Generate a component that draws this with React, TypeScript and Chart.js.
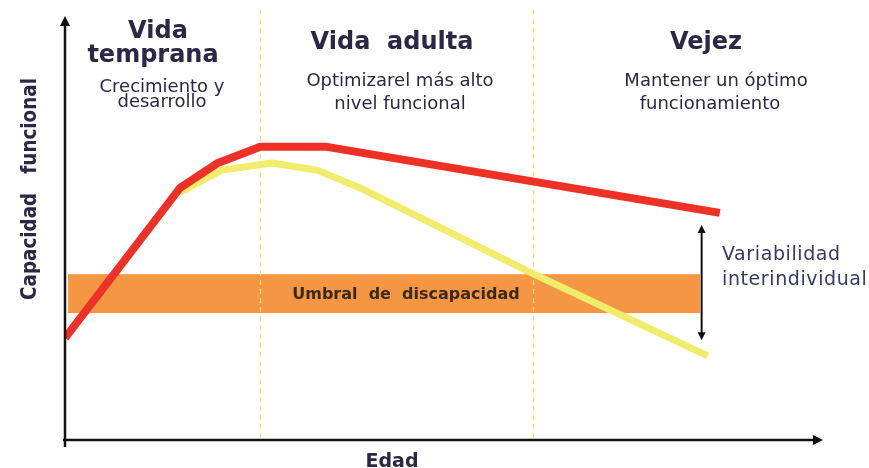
import React, { useEffect, useRef } from "react";
import { Chart, registerables } from "chart.js";

Chart.register(...registerables);

// Abstract scales: age 0..100 (x), functional capacity 0..100 (y)
const redAges = [0, 15.2, 20.2, 25.8, 34.6, 86.5];
const redCapacity = [24.1, 59.6, 65.5, 69.3, 69.3, 53.7];
const yellowAges = [15.2, 20.7, 27.3, 33.3, 39.0, 61.4, 84.9];
const yellowCapacity = [58.6, 63.8, 65.5, 63.8, 59.6, 39.7, 19.9];
const stageBoundaries = [25.8, 61.8];
const thresholdAgeRange = [0.4, 83.9];
const thresholdCapacityRange = [30.0, 39.2];
const variabilityAge = [84.1];
const variabilityRange = [23.6, 50.8];

const stageTitles = [["Vida", "temprana"], ["Vida  adulta"], ["Vejez"]];
const stageSubtitles = [
  ["Crecimiento y", "desarrollo"],
  ["Optimizarel más alto", "nivel funcional"],
  ["Mantener un óptimo", "funcionamiento"],
];
const thresholdLabel = "Umbral  de  discapacidad";
const variabilityLabel = ["Variabilidad", "interindividual"];
const xAxisTitle = "Edad";
const yAxisTitle = "Capacidad   funcional";

const TEXT = "#2b2846";
const FONT = "'DejaVu Sans', sans-serif";
const NARROW = "'Liberation Sans Narrow', 'DejaVu Sans Condensed', sans-serif";

const decorPlugin = {
  id: "decor",
  beforeDatasetsDraw(chart: any) {
    const { ctx, scales } = chart;
    const xs = scales.x, ys = scales.y;
    ctx.save();
    // threshold band
    const bx0 = xs.getPixelForValue(thresholdAgeRange[0]);
    const bx1 = xs.getPixelForValue(thresholdAgeRange[1]);
    const by0 = ys.getPixelForValue(thresholdCapacityRange[1]);
    const by1 = ys.getPixelForValue(thresholdCapacityRange[0]);
    ctx.fillStyle = "#F59642";
    ctx.fillRect(bx0, by0, bx1 - bx0, by1 - by0);
    // stage dashed lines
    ctx.strokeStyle = "#EEEA6E";
    ctx.lineWidth = 1.2;
    ctx.setLineDash([5, 4]);
    stageBoundaries.forEach((a) => {
      const px = Math.round(xs.getPixelForValue(a)) + 0.5;
      ctx.beginPath();
      ctx.moveTo(px, 10);
      ctx.lineTo(px, ys.getPixelForValue(0));
      ctx.stroke();
    });
    ctx.setLineDash([]);
    // threshold label
    ctx.fillStyle = "#3a2a1c";
    ctx.font = `bold 16px ${FONT}`;
    ctx.textAlign = "center";
    ctx.textBaseline = "alphabetic";
    ctx.fillText(thresholdLabel, 406, 299);
    ctx.restore();
  },
  afterDatasetsDraw(chart: any) {
    const { ctx, scales, chartArea } = chart;
    const xs = scales.x, ys = scales.y;
    ctx.save();
    // axes
    ctx.strokeStyle = "#111";
    ctx.fillStyle = "#111";
    ctx.lineWidth = 2.5;
    const ox = chartArea.left, oy = chartArea.bottom;
    ctx.beginPath();
    ctx.moveTo(ox, oy + 7);
    ctx.lineTo(ox, chartArea.top + 6);
    ctx.stroke();
    ctx.beginPath();
    ctx.moveTo(ox, chartArea.top - 1);
    ctx.lineTo(ox - 5, chartArea.top + 9);
    ctx.lineTo(ox + 5, chartArea.top + 9);
    ctx.closePath();
    ctx.fill();
    ctx.beginPath();
    ctx.moveTo(ox - 2, oy);
    ctx.lineTo(chartArea.right - 6, oy);
    ctx.stroke();
    ctx.beginPath();
    ctx.moveTo(chartArea.right + 1, oy);
    ctx.lineTo(chartArea.right - 9, oy - 5);
    ctx.lineTo(chartArea.right - 9, oy + 5);
    ctx.closePath();
    ctx.fill();

    // variability double arrow
    const vx = xs.getPixelForValue(variabilityAge[0]);
    const vy0 = ys.getPixelForValue(variabilityRange[1]);
    const vy1 = ys.getPixelForValue(variabilityRange[0]);
    ctx.lineWidth = 2;
    ctx.beginPath();
    ctx.moveTo(vx, vy0 + 4);
    ctx.lineTo(vx, vy1 - 4);
    ctx.stroke();
    ctx.beginPath();
    ctx.moveTo(vx, vy0);
    ctx.lineTo(vx - 4, vy0 + 8);
    ctx.lineTo(vx + 4, vy0 + 8);
    ctx.closePath();
    ctx.fill();
    ctx.beginPath();
    ctx.moveTo(vx, vy1);
    ctx.lineTo(vx - 4, vy1 - 8);
    ctx.lineTo(vx + 4, vy1 - 8);
    ctx.closePath();
    ctx.fill();

    // texts
    ctx.fillStyle = TEXT;
    ctx.textAlign = "center";
    ctx.textBaseline = "alphabetic";
    ctx.font = `bold 24px ${FONT}`;
    ctx.fillText(stageTitles[0][0], 158, 38);
    ctx.fillText(stageTitles[0][1], 153, 62);
    ctx.fillText(stageTitles[1][0], 392, 49);
    ctx.fillText(stageTitles[2][0], 706, 49);

    ctx.font = `18px ${FONT}`;
    const subX = [162, 400, 716];
    stageSubtitles.forEach((lines, i) => {
      ctx.fillText(lines[0], subX[i], i === 0 ? 92 : 86);
      ctx.fillText(lines[1], subX[i] - (i === 2 ? 6 : 0), i === 0 ? 107 : 109);
    });

    ctx.textAlign = "left";
    ctx.fillStyle = "#363966";
    ctx.font = `19px ${FONT}`;
    (ctx as any).letterSpacing = "0.6px";
    ctx.fillText(variabilityLabel[0], 722, 260);
    ctx.fillText(variabilityLabel[1], 722, 285);
    (ctx as any).letterSpacing = "0px";

    ctx.fillStyle = TEXT;
    ctx.textAlign = "center";
    ctx.font = `bold 19px ${FONT}`;
    ctx.fillText(xAxisTitle, 392, 467);

    // y-axis title, fitted to its length in the reference
    ctx.font = `bold 25px ${NARROW}`;
    const w = ctx.measureText(yAxisTitle).width;
    const size = Math.min(27, (25 * 222) / w);
    ctx.font = `bold ${size.toFixed(1)}px ${NARROW}`;
    ctx.translate(36, 189);
    ctx.rotate(-Math.PI / 2);
    ctx.fillText(yAxisTitle, 0, 0);
    ctx.restore();
  },
};

export default function App() {
  const ref = useRef<HTMLCanvasElement>(null);
  useEffect(() => {
    if (!ref.current) return;
    const chart = new Chart(ref.current, {
      type: "line",
      data: {
        datasets: [
          {
            label: "Capacidad funcional máxima",
            data: redAges.map((a, i) => ({ x: a, y: redCapacity[i] })),
            borderColor: "#EE3126",
            borderWidth: 8,
            pointRadius: 0,
            borderJoinStyle: "round",
            order: 1,
          },
          {
            label: "Capacidad funcional con declive",
            data: yellowAges.map((a, i) => ({ x: a, y: yellowCapacity[i] })),
            borderColor: "#F0EC6C",
            borderWidth: 7,
            pointRadius: 0,
            borderJoinStyle: "round",
            order: 2,
          },
        ],
      },
      options: {
        animation: false,
        responsive: false,
        devicePixelRatio: 1,
        layout: { padding: { left: 65, right: 47, top: 17, bottom: 28 } },
        scales: {
          x: { type: "linear", min: 0, max: 100, display: false },
          y: { type: "linear", min: 0, max: 100, display: false },
        },
        plugins: { legend: { display: false }, tooltip: { enabled: false } },
      },
      plugins: [decorPlugin],
    } as any);
    return () => chart.destroy();
  }, []);
  return (
    <div style={{ position: "fixed", left: 0, top: 0, width: 869, height: 468, background: "#fff" }}>
      <canvas ref={ref} width={869} height={468} />
    </div>
  );
}
